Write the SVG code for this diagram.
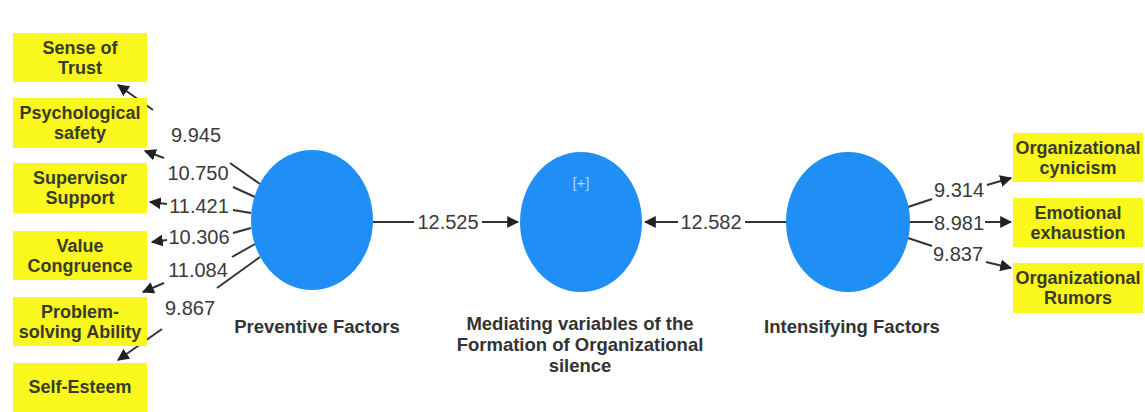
<svg xmlns="http://www.w3.org/2000/svg" width="1145" height="412" viewBox="0 0 1145 412">
<style>
.box{fill:#f9f71c}
.bt{font-family:"Liberation Sans",Arial,sans-serif;font-weight:bold;font-size:18px;fill:#3a3a2a;text-anchor:middle}
.lv{fill:#1f8ff6}
.lt{font-family:"Liberation Sans",Arial,sans-serif;font-weight:bold;font-size:18.5px;fill:#333;text-anchor:middle}
.num{font-family:"Liberation Sans",Arial,sans-serif;font-size:20px;fill:#3a3a3a;text-anchor:middle}
.ln{stroke:#333;stroke-width:2;fill:none}
.ar{stroke:#333;stroke-width:2;fill:none;marker-end:url(#ah)}
</style>
<defs>
<marker id="ah" viewBox="0 0 10 10" refX="9" refY="5" markerWidth="6" markerHeight="6" orient="auto" markerUnits="strokeWidth">
<path d="M0,0 L10,5 L0,10 z" fill="#222"/>
</marker>
</defs>
<rect width="1145" height="412" fill="#ffffff"/>

<g id="connectors">
<!-- Sense of Trust -->
<line class="ln" x1="260" y1="184" x2="230" y2="163"/>
<line class="ar" x1="153" y1="110" x2="118" y2="85"/>
<text class="num" x="196" y="142">9.945</text>
<!-- Psychological safety -->
<line class="ln" x1="255" y1="197" x2="233" y2="187"/>
<line class="ar" x1="164" y1="158" x2="145" y2="151"/>
<text class="num" x="198" y="180">10.750</text>
<!-- Supervisor Support -->
<line class="ln" x1="251" y1="213" x2="233" y2="210"/>
<line class="ar" x1="167" y1="204" x2="150" y2="202"/>
<text class="num" x="199" y="213">11.421</text>
<!-- Value Congruence -->
<line class="ln" x1="251" y1="228" x2="233" y2="233"/>
<line class="ar" x1="167" y1="240" x2="152" y2="242"/>
<text class="num" x="199" y="244">10.306</text>
<!-- Problem-solving Ability -->
<line class="ln" x1="255" y1="244" x2="232" y2="257"/>
<line class="ar" x1="164" y1="283" x2="143" y2="292"/>
<text class="num" x="198" y="277">11.084</text>
<!-- Self-Esteem -->
<line class="ln" x1="260" y1="257" x2="217" y2="288"/>
<line class="ar" x1="162" y1="329" x2="118" y2="360"/>
<text class="num" x="190" y="315">9.867</text>
<!-- Preventive -> Mediating -->
<line class="ln" x1="373" y1="222" x2="414" y2="222"/>
<line class="ar" x1="482" y1="222" x2="518" y2="222"/>
<text class="num" x="448" y="229">12.525</text>
<!-- Intensifying -> Mediating -->
<line class="ln" x1="787" y1="222" x2="745" y2="222"/>
<line class="ar" x1="678" y1="222" x2="645" y2="222"/>
<text class="num" x="711" y="229">12.582</text>
<!-- Organizational cynicism -->
<line class="ln" x1="908" y1="207" x2="932" y2="199"/>
<line class="ar" x1="987" y1="185" x2="1011" y2="178"/>
<text class="num" x="959" y="197">9.314</text>
<!-- Emotional exhaustion -->
<line class="ln" x1="910" y1="222" x2="933" y2="222"/>
<line class="ar" x1="985" y1="222" x2="1011" y2="222"/>
<text class="num" x="959" y="230">8.981</text>
<!-- Organizational Rumors -->
<line class="ln" x1="908" y1="238" x2="932" y2="246"/>
<line class="ar" x1="986" y1="262" x2="1011" y2="268"/>
<text class="num" x="958" y="261">9.837</text>
</g>

<g id="sense-of-trust">
<rect class="box" x="13" y="33" width="134" height="49"/>
<text class="bt" x="80" y="54">Sense of</text>
<text class="bt" x="80" y="74">Trust</text>
</g>
<g id="psychological-safety">
<rect class="box" x="13" y="98" width="134" height="50"/>
<text class="bt" x="80" y="119">Psychological</text>
<text class="bt" x="80" y="139">safety</text>
</g>
<g id="supervisor-support">
<rect class="box" x="13" y="163" width="134" height="50"/>
<text class="bt" x="80" y="184">Supervisor</text>
<text class="bt" x="80" y="204">Support</text>
</g>
<g id="value-congruence">
<rect class="box" x="13" y="231" width="134" height="49"/>
<text class="bt" x="80" y="252">Value</text>
<text class="bt" x="80" y="272">Congruence</text>
</g>
<g id="problem-solving-ability">
<rect class="box" x="13" y="297" width="134" height="49"/>
<text class="bt" x="80" y="318">Problem-</text>
<text class="bt" x="80" y="338">solving Ability</text>
</g>
<g id="self-esteem">
<rect class="box" x="13" y="363" width="134" height="49"/>
<text class="bt" x="80" y="393">Self-Esteem</text>
</g>

<g id="preventive-factors">
<ellipse class="lv" cx="312" cy="220" rx="61" ry="70"/>
<text class="lt" x="317" y="333">Preventive Factors</text>
</g>
<g id="mediating">
<ellipse class="lv" cx="581" cy="222" rx="61" ry="70"/>
<text x="581" y="188" font-family="Liberation Sans, Arial, sans-serif" font-size="15" fill="#a9d5ff" text-anchor="middle">[+]</text>
<text class="lt" x="580" y="330">Mediating variables of the</text>
<text class="lt" x="580" y="351">Formation of Organizational</text>
<text class="lt" x="580" y="372">silence</text>
</g>
<g id="intensifying-factors">
<ellipse class="lv" cx="848" cy="222" rx="62" ry="70"/>
<text class="lt" x="852" y="333">Intensifying Factors</text>
</g>

<g id="organizational-cynicism">
<rect class="box" x="1013" y="133" width="130" height="49"/>
<text class="bt" x="1078" y="154">Organizational</text>
<text class="bt" x="1078" y="174">cynicism</text>
</g>
<g id="emotional-exhaustion">
<rect class="box" x="1013" y="198" width="130" height="49"/>
<text class="bt" x="1078" y="219">Emotional</text>
<text class="bt" x="1078" y="239">exhaustion</text>
</g>
<g id="organizational-rumors">
<rect class="box" x="1013" y="263" width="130" height="50"/>
<text class="bt" x="1078" y="284">Organizational</text>
<text class="bt" x="1078" y="304">Rumors</text>
</g>
</svg>
